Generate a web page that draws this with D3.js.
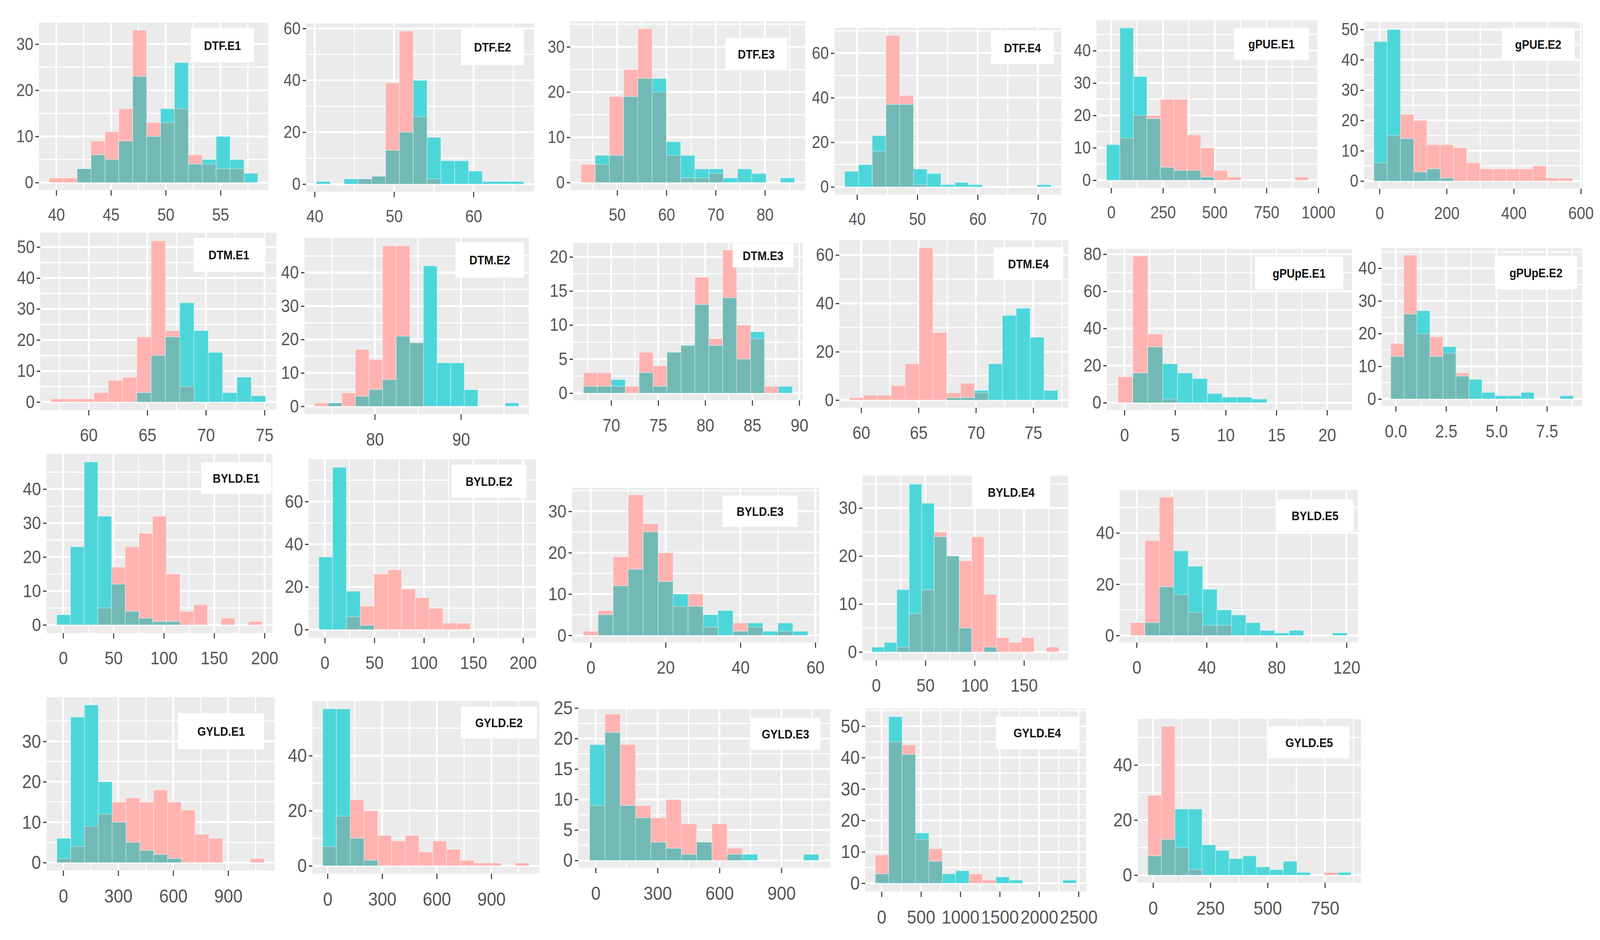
<!DOCTYPE html>
<html><head><meta charset="utf-8">
<script src="https://cdn.jsdelivr.net/npm/d3@7"></script>
<style>html,body{margin:0;padding:0;background:#fff;overflow:hidden;} svg{display:block;width:100vw;height:100vh;}</style>
</head><body>
<svg id="chart" viewBox="0 0 4610 2407" preserveAspectRatio="none"></svg>
<script>
// ---------------- DATA ----------------
const panelNames = ["DTF.E1","DTF.E2","DTF.E3","DTF.E4","gPUE.E1","gPUE.E2",
  "DTM.E1","DTM.E2","DTM.E3","DTM.E4","gPUpE.E1","gPUpE.E2",
  "BYLD.E1","BYLD.E2","BYLD.E3","BYLD.E4","BYLD.E5",
  "GYLD.E1","GYLD.E2","GYLD.E3","GYLD.E4","GYLD.E5"];

// centre of first bin and bin width (data units)
const binStarts = [40, 41.1, 44.1, 39.1, 10, 3, 57.4, 73.8, 67.8, 59.6, 0.1, 0.08,
  0.5, 1, 0, 2, 0.6, 3, 11, 8, 6, 7];
const binWidths = [1.27, 1.74, 2.89, 2.28, 65, 39.5, 1.22, 1.58, 1.48, 1.21, 1.47, 0.646,
  13.6, 13.9, 4, 12.65, 8.25, 75.4, 75.6, 74, 170, 59.1];

// counts of the pink (red) group
const pinkCounts = [
  [1,1,3,9,11,16,33,13,13,16,6,4,3,3,0],
  [0,0,0,2,3,39,59,26,2,0,0,0,0,0,0],
  [4,4,19,25,34,20,6,1,1,2,0,0,0,0,0],
  [0,0,16,68,41,1,0,0,0,0,0,0,0,0,0],
  [0,13,20,20,25,25,14,10,3,1,0,0,0,0,1],
  [6,15,22,20,12,12,11,6,4,4,4,4,5,1,1],
  [1,1,1,3,7,8,21,52,23,5,0,0,0,0,0],
  [1,1,4,17,14,48,48,19,0,0,0,0,0,0,0],
  [3,3,1,1,6,4,6,7,17,8,21,10,8,1,0],
  [1,2,2,6,15,63,28,3,7,3,0,0,0,0,0],
  [14,79,37,2,0,0,0,0,0,0,0,0,0,0,0],
  [17,44,20,19,14,8,0,0,0,0,0,0,0,0],
  [0,0,0,5,17,23,27,32,15,4,6,0,2,0,1],
  [0,0,6,11,26,28,19,15,10,3,3,0,0,0,0],
  [1,6,19,34,27,20,7,10,2,0,3,2,0,1,0],
  [0,0,1,8,13,25,20,19,24,12,3,2,3,0,1],
  [5,37,54,16,9,4,4,0,0,0,0,0,0,0,0],
  [1,4,9,12,15,16,15,18,15,13,7,6,0,0,1],
  [7,18,24,20,11,9,11,5,9,6,2,1,1,0,1],
  [9,24,19,9,7,10,6,3,6,2,0,0,0,0,0],
  [9,45,44,14,11,0,0,3,1,0,0,0,0,0,0],
  [29,54,10,2,0,0,0,0,0,0,0,0,0,1,0]
];
// counts of the cyan group
const cyanCounts = [
  [0,0,3,6,5,9,23,10,16,26,4,5,10,5,2],
  [1,0,2,2,3,13,20,40,18,9,9,5,1,1,1],
  [0,6,6,19,23,23,9,6,3,3,1,3,2,0,1],
  [7,10,23,37,37,8,6,1,2,1,0,0,0,0,1],
  [11,47,32,19,4,3,3,1,0,0,0,0,0,0,0],
  [46,50,14,3,4,1,0,0,0,0,0,0,0,0,0],
  [0,0,0,0,0,0,3,15,21,32,23,16,3,8,2],
  [0,1,0,3,5,8,21,19,42,13,13,5,0,0,1],
  [1,1,2,0,3,1,6,7,13,7,14,5,9,0,1],
  [0,0,0,0,0,0,0,1,1,4,15,35,38,26,4],
  [0,16,30,21,16,13,5,3,3,2,0,0,0,0,0],
  [13,26,27,13,16,7,6,2,1,1,2,0,0,1],
  [3,23,48,32,12,4,2,1,1,0,0,0,0,0,0],
  [34,76,18,2,0,0,0,0,0,0,0,0,0,0,0],
  [0,5,12,16,25,13,10,7,5,6,1,3,1,3,1],
  [1,2,13,35,31,24,20,5,0,1,0,0,0,0,0],
  [0,5,19,33,27,18,10,8,5,2,1,2,0,0,1],
  [6,36,39,20,10,5,3,2,1,0,0,0,0,0,0],
  [57,57,10,2,0,0,0,0,0,0,0,0,0,0,0],
  [19,21,9,7,3,2,1,3,0,1,1,0,0,0,1],
  [3,53,41,16,7,3,4,0,0,2,1,0,0,0,1],
  [7,13,24,24,11,9,6,7,3,2,5,1,0,0,1]
];

const xTickValues = [
  [40,45,50,55],[40,50,60],[50,60,70,80],[40,50,60,70],[0,250,500,750,1000],[0,200,400,600],
  [60,65,70,75],[80,90],[70,75,80,85,90],[60,65,70,75],[0,5,10,15,20],[0,2.5,5,7.5],
  [0,50,100,150,200],[0,50,100,150,200],[0,20,40,60],[0,50,100,150],[0,40,80,120],
  [0,300,600,900],[0,300,600,900],[0,300,600,900],[0,500,1000,1500,2000,2500],[0,250,500,750]
];
const yTickValues = [
  [0,10,20,30],[0,20,40,60],[0,10,20,30],[0,20,40,60],[0,10,20,30,40],[0,10,20,30,40,50],
  [0,10,20,30,40,50],[0,10,20,30,40],[0,5,10,15,20],[0,20,40,60],[0,20,40,60,80],[0,10,20,30,40],
  [0,10,20,30,40],[0,20,40,60],[0,10,20,30],[0,10,20,30],[0,20,40],
  [0,10,20,30],[0,20,40],[0,5,10,15,20,25],[0,10,20,30,40,50],[0,20,40]
];

// ---------------- LAYOUT (pixels) ----------------
// panel rect [x0,y0,x1,y1], label box [x,y,w,h], axis font size per panel
const panelRects = [
  [112,58,773,487],[882,60,1539,491],[1643,54,2320,487],[2404,71,3058,498],[3159,52,3799,481],[3930,56,4560,483],
  [116,596,796,1050],[877,609,1524,1061],[1651,622,2313,1025],[2418,615,3078,1044],[3189,637,3897,1050],[3981,635,4559,1040],
  [134,1162,785,1621],[889,1176,1544,1633],[1648,1249,2360,1645],[2485,1218,3078,1691],[3226,1255,3912,1645],
  [134,1785,791,2229],[900,1795,1554,2237],[1666,1810,2392,2222],[2493,1814,3130,2283],[3278,1841,3922,2260]
];
const labelBoxes = [
  [550,72,182,88],[1328,74,182,93],[2090,97,178,83],[2856,80,180,84],[3556,71,215,83],[4327,72,210,82],
  [558,609,203,87],[1312,620,198,91],[2111,623,175,62],[2863,633,200,84],[3616,657,254,84],[4307,655,237,86],
  [580,1184,201,81],[1301,1190,216,85],[2082,1269,216,80],[2801,1218,225,85],[3678,1279,222,82],
  [513,1826,248,92],[1328,1810,219,81],[2162,1838,202,82],[2870,1835,237,83],[3656,1860,232,82]
];
const rowFontSize = [44,44,44,44,44,44, 46,46,46,46,46,46, 47,47,47,47,47, 49,49,49,49,49];

const COL = {panel:"#EBEBEB", pink:"#FFB3B0", cyan:"#4DD6DA", both:"#72B9B6", text:"#555555", tick:"#3a3a3a"};
const FONT = "'Liberation Sans', Arial, sans-serif";

const svg = d3.select("#chart");
svg.append("rect").attr("width",4610).attr("height",2407).attr("fill","#fff");

function minorValues(ticks, dom){
  const st = ticks.length > 1 ? ticks[1]-ticks[0] : 10;
  let v = ticks[0] - st/2;
  while (v - st >= dom[0]) v -= st;
  const out = [];
  for (; v <= dom[1] + 1e-9; v += st) if (v >= dom[0]) out.push(v);
  return out;
}

panelNames.forEach((name, i) => {
  const [x0,y0,x1,y1] = panelRects[i];
  const P = pinkCounts[i], C = cyanCounts[i];
  const w = binWidths[i], s = binStarts[i], n = P.length;
  const lo = s - w/2, hi = s + (n-1)*w + w/2;
  const xd = [lo - 0.05*(hi-lo), hi + 0.05*(hi-lo)];
  const M = d3.max(P.concat(C));
  const yd = [-0.05*M, 1.05*M];
  const x = d3.scaleLinear().domain(xd).range([x0,x1]);
  const y = d3.scaleLinear().domain(yd).range([y1,y0]);
  const fs = rowFontSize[i];
  const g = svg.append("g").attr("class","panel");

  g.append("rect").attr("x",x0).attr("y",y0).attr("width",x1-x0).attr("height",y1-y0).attr("fill",COL.panel);

  const xt = xTickValues[i].filter(v => v >= xd[0] && v <= xd[1]);
  const yt = yTickValues[i].filter(v => v >= yd[0] && v <= yd[1]);
  // minor grid
  g.selectAll(".vminor").data(minorValues(xTickValues[i], xd)).join("line")
    .attr("x1",d=>x(d)).attr("x2",d=>x(d)).attr("y1",y0).attr("y2",y1)
    .attr("stroke","#fff").attr("stroke-width",3);
  g.selectAll(".hminor").data(minorValues(yTickValues[i], yd)).join("line")
    .attr("y1",d=>y(d)).attr("y2",d=>y(d)).attr("x1",x0).attr("x2",x1)
    .attr("stroke","#fff").attr("stroke-width",3);
  // major grid
  g.selectAll(".vmajor").data(xt).join("line")
    .attr("x1",d=>x(d)).attr("x2",d=>x(d)).attr("y1",y0).attr("y2",y1)
    .attr("stroke","#fff").attr("stroke-width",5);
  g.selectAll(".hmajor").data(yt).join("line")
    .attr("y1",d=>y(d)).attr("y2",d=>y(d)).attr("x1",x0).attr("x2",x1)
    .attr("stroke","#fff").attr("stroke-width",5);

  const bins = d3.range(n).map(k => ({c: s + k*w, p: P[k], q: C[k], b: Math.min(P[k], C[k])}));
  const drawBars = (key, fill) => {
    g.append("g").selectAll("rect").data(bins.filter(d => d[key] > 0)).join("rect")
      .attr("x", d => x(d.c - w/2))
      .attr("width", d => x(d.c + w/2) - x(d.c - w/2))
      .attr("y", d => y(d[key]))
      .attr("height", d => y(0) - y(d[key]))
      .attr("fill", fill)
      .attr("stroke", "#ffffff").attr("stroke-opacity", 0.35).attr("stroke-width", 2);
  };
  drawBars("p", COL.pink);
  drawBars("q", COL.cyan);
  drawBars("b", COL.both);

  // axes
  const fmt = xTickValues[i].some(v => !Number.isInteger(v)) ? d3.format(".1f") : d3.format("d");
  const ax = g.append("g").attr("transform",`translate(0,${y1})`)
    .call(d3.axisBottom(x).tickValues(xt).tickFormat(fmt).tickSize(14).tickPadding(33));
  const ay = g.append("g").attr("transform",`translate(${x0},0)`)
    .call(d3.axisLeft(y).tickValues(yt).tickFormat(d3.format("d")).tickSize(10).tickPadding(6));
  [ax, ay].forEach(a => {
    a.select(".domain").remove();
    a.selectAll(".tick line").attr("stroke",COL.tick).attr("stroke-width",3);
    a.selectAll(".tick text").attr("fill",COL.text).style("font-family",FONT).style("font-size",fs+"px");
  });

  // label box
  const [bx,by,bw,bh] = labelBoxes[i];
  g.append("rect").attr("x",bx).attr("y",by).attr("width",bw).attr("height",bh).attr("fill","#fff");
  g.append("text").attr("x",bx+bw/2).attr("y",by+bh/2).attr("dy","0.36em")
    .attr("text-anchor","middle").attr("fill","#111")
    .style("font-family",FONT).style("font-weight","bold").style("font-size","32px")
    .text(name);
});
</script>
</body></html>
